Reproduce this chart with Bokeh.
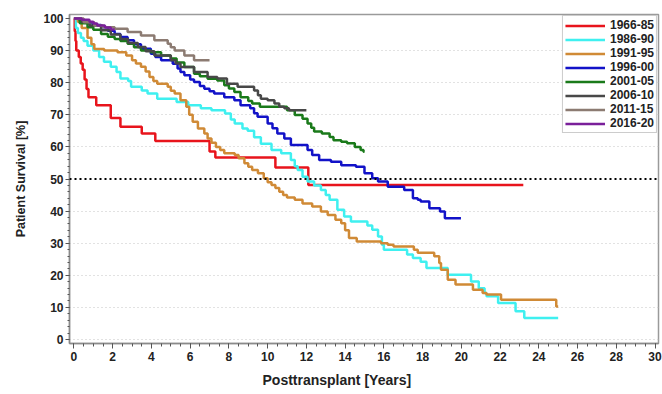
from bokeh.plotting import figure
from bokeh.models import Span, FixedTicker, Legend, Title
from bokeh.embed import file_html
from bokeh.resources import INLINE

# ---- data (years posttransplant, survival %) ----
red_t = [0, 0.04, 0.08, 0.12, 0.25, 0.35, 0.45, 0.55, 0.65, 0.75, 1.15, 1.9, 2.4, 3.5, 4.2, 7.0, 7.3, 10.4, 12.1, 23.2]
red_s = [100, 96, 93, 90, 88, 86, 84, 81, 78, 75.5, 73, 69, 66.3, 64.2, 61.8, 58.6, 56.7, 53.6, 48.1, 48.1]

cyan_t = [0, 0.1, 0.2, 0.36, 0.5, 0.7, 1.0, 1.3, 1.55, 1.9, 2.2, 2.4, 2.8, 2.95, 3.5, 3.8, 4.3, 5.3, 5.9, 6.55,
          7.1, 7.8, 8.1, 8.3, 8.7, 8.97, 9.3, 9.65, 10.2, 10.7, 11.2, 11.4, 11.55, 11.8, 12.06, 12.4, 12.75, 13.0,
          13.2, 13.6, 13.95, 14.3, 15.15, 15.4, 15.7, 15.9, 16.0, 17.2, 17.5, 17.9, 18.2, 19.3, 20.5, 20.9, 21.2,
          21.3, 21.9, 22.8, 23.25, 25.0]
cyan_s = [100, 97, 95.5, 94, 93, 91.5, 90, 88, 86.5, 85, 83.3, 81.3, 80.5, 78.7, 77.6, 76.6, 75, 74, 73, 72,
          71.4, 70.4, 68.5, 67.3, 65.7, 65, 63, 61, 59, 58, 55.9, 54, 52.8, 50.7, 49.2, 48, 46.6, 45,
          43.5, 40.4, 38.3, 36.8, 35.5, 34.2, 32.1, 29.5, 28, 26.5, 25.4, 24.2, 22.3, 20.2, 18.1, 16.0, 14.5,
          13.5, 11.4, 8.8, 6.7, 6.7]

orange_t = [0, 0.2, 0.4, 0.7, 0.9, 1.05, 1.56, 2.25, 2.7, 3.0, 3.2, 3.46, 3.7, 3.9, 4.1, 4.3, 4.84, 5.0, 5.2,
            5.5, 5.8, 5.95, 6.13, 6.4, 6.73, 6.9, 7.1, 7.33, 7.55, 7.76, 8.3, 8.5, 8.8, 9.0, 9.2, 9.5, 9.8,
            10.0, 10.2, 10.4, 10.6, 10.8, 11.0, 11.4, 11.8, 12.3, 12.75, 13.1, 13.5, 13.8, 14.0, 14.2, 14.6,
            15.85, 16.2, 16.5, 17.55, 17.75, 18.6, 18.86, 18.95, 19.3, 19.7, 20.6, 21.1, 21.3, 22.05, 24.9, 25.0]
orange_s = [100, 99, 97, 94, 92, 90.5, 90, 89.5, 88.5, 87, 86, 85, 83.5, 81.8, 80.5, 79.7, 78.7, 77.5, 76.6,
            74.5, 72.5, 70, 67.8, 65.7, 64.2, 62.6, 61.3, 60, 59, 58, 57.5, 56.5, 54.9, 53.8, 52.8, 51.8, 50.2,
            49, 48.1, 47.2, 46, 45, 44.2, 43.5, 42.4, 41.4, 39.9, 38.8, 37.3, 36.2, 34, 31.6, 30.5,
            30, 29.5, 29, 28, 27, 25.9, 23.8, 21.7, 18.6, 17.1, 15.5, 14.5, 14, 12.4, 10.3, 10.3]

blue_t = [0, 0.3, 0.7, 1.0, 1.4, 1.75, 2.1, 2.4, 2.77, 3.1, 3.46, 3.97, 4.2, 4.5, 5.1, 5.35, 5.5, 5.7, 6.0,
          6.2, 6.5, 6.73, 7.0, 7.24, 7.76, 8.28, 8.6, 9.1, 9.3, 9.48, 10.0, 10.25, 10.5, 10.86, 11.2, 12.06,
          12.3, 12.66, 13.27, 13.8, 14.56, 15.0, 15.4, 15.7, 16.2, 17.05, 17.5, 17.75, 17.9, 18.35, 18.9,
          19.15, 19.98]
blue_s = [100, 99.4, 98.5, 98, 97.3, 96.2, 95.2, 94.2, 93.2, 92, 90.6, 89, 88, 87, 85.9, 84.4, 83.3, 82.3, 81,
          80.2, 79, 78.1, 77.3, 76.6, 75.5, 74.5, 73, 72, 70.5, 69.4, 67.3, 65.8, 64.2, 62.6, 60.6, 59,
          57.5, 55.9, 55.4, 54.3, 53.8, 51.8, 50.2, 49.2, 47.6, 46.6, 44, 43.5, 43, 40.9, 39.9,
          37.8, 37.8]

green_t = [0, 0.3, 0.7, 1.0, 1.4, 1.75, 2.1, 2.4, 2.77, 3.1, 3.46, 3.97, 4.5, 5.0, 5.3, 5.7, 6.2, 6.5, 6.9,
           7.4, 7.76, 8.0, 8.28, 8.6, 9.0, 9.2, 9.6, 11.0, 11.4, 11.8, 12.06, 12.25, 12.4, 12.8, 13.2, 13.4,
           13.8, 14.1, 14.5, 14.8, 14.95, 15.0]
green_s = [100, 98.5, 97.3, 96.5, 95.2, 94.3, 93.6, 93, 92.1, 91, 90, 89.5, 88.5, 87.5, 86.3, 84.9, 82.8, 82,
           81.2, 80.7, 79.2, 78.2, 77.1, 75.5, 74.3, 73.5, 72.5, 71.4, 69.9, 68.8, 67.3, 66, 64.8, 64.2,
           63.1, 62.1, 61.6, 61.1, 60, 59, 58.5, 58.5]

dgray_t = [0, 0.4, 0.8, 1.4, 1.9, 2.4, 2.8, 3.3, 3.7, 4.15, 5.0, 5.25, 5.5, 6.2, 6.9, 7.4, 7.9, 8.45, 9.3, 9.5,
           9.65, 10.0, 10.35, 10.6, 10.86, 11.1, 12.0]
dgray_s = [100, 99, 97.8, 96.3, 95, 93.6, 92.4, 91.1, 89.8, 88.5, 87, 86, 84.9, 83.3, 81.8, 81.3, 79.7, 78.7,
           77.6, 76.1, 75, 74.5, 73.5, 72.5, 72, 71.4, 71.4]

brown_t = [0, 0.5, 1.05, 1.5, 2.1, 2.77, 3.46, 4.15, 4.84, 5.0, 5.2, 5.7, 6.2, 7.0]
brown_s = [100, 98.8, 97.8, 97.3, 96.8, 95.8, 94.7, 93.2, 92.1, 91, 90, 88.5, 87, 87]

purple_t = [0, 0.4, 0.8, 1.0, 1.2, 1.6, 1.9, 2.1]
purple_s = [100, 99.6, 99, 98.4, 97.8, 97.2, 96.6, 96.6]

series_names = ["1966-85", "1986-90", "1991-95", "1996-00", "2001-05", "2006-10", "2011-15", "2016-20"]
series_colors = ["#e8141c", "#3ff0f0", "#d08a36", "#1212c8", "#1a7a1a", "#484848", "#8c7b72", "#7a1f9a"]
series_t = [red_t, cyan_t, orange_t, blue_t, green_t, dgray_t, brown_t, purple_t]
series_s = [red_s, cyan_s, orange_s, blue_s, green_s, dgray_s, brown_s, purple_s]

x_ticks = list(range(0, 31, 2))
y_ticks = list(range(0, 101, 10))
x_title = "Posttransplant [Years]"
y_title = "Patient Survival [%]"

FONT = "Liberation Sans"

p = figure(width=662, height=394, x_range=(-0.23, 30.18), y_range=(-1.24, 101.24),
           output_backend="svg", toolbar_location=None,
           min_border_left=69, min_border_right=4, min_border_top=14, min_border_bottom=50)
p.background_fill_color = "white"
p.border_fill_color = "white"
p.outline_line_color = "#9a9a9a"
p.outline_line_width = 1.5

p.xgrid.visible = False
p.ygrid.ticker = FixedTicker(ticks=[t for t in y_ticks if t not in (50, 100)])
p.ygrid.grid_line_color = "#c4c4c4"
p.ygrid.grid_line_dash = "1 3"
p.ygrid.grid_line_width = 1

p.add_layout(Span(location=50, dimension="width", line_color="black", line_width=2, line_dash="2 3"))

p.xaxis.ticker = FixedTicker(ticks=x_ticks, minor_ticks=[i * 0.5 for i in range(0, 61)])
p.yaxis.ticker = FixedTicker(ticks=y_ticks, minor_ticks=list(range(0, 101, 2)))

for ax in (p.xaxis[0], p.yaxis[0]):
    ax.axis_line_color = "#8a8a8a"
    ax.axis_line_width = 1.5
    ax.major_tick_line_color = "#555555"
    ax.minor_tick_line_color = "#555555"
    ax.major_tick_in = 0
    ax.minor_tick_in = 0
    ax.major_label_text_font = FONT
    ax.major_label_text_font_style = "bold"
    ax.major_label_text_font_size = "12px"
    ax.major_label_text_color = "#222222"
    ax.axis_label_text_font = FONT
    ax.axis_label_text_font_style = "bold"
    ax.axis_label_text_color = "#222222"

p.xaxis.major_tick_out = 5
p.xaxis.minor_tick_out = 3
p.yaxis.major_tick_out = 4
p.yaxis.minor_tick_out = 2
p.xaxis.major_label_standoff = 3
p.yaxis.major_label_standoff = 2
p.yaxis.axis_label = y_title
p.yaxis.axis_label_text_font_size = "12.5px"
p.yaxis.axis_label_standoff = 12

# x-axis title: placed left of the frame centre, as in the original
xt = Title(text=x_title, align="left", offset=193, standoff=13,
           text_font=FONT, text_font_style="bold", text_font_size="14px",
           text_color="#222222")
p.add_layout(xt, "below")

items = []
for name, col, t, s in zip(series_names, series_colors, series_t, series_s):
    r = p.step(x=t, y=s, mode="after", line_color=col, line_width=2.5)
    items.append((name, [r]))

legend = Legend(items=items, location="top_right")
legend.margin = 1
legend.padding = 2
legend.spacing = 0
legend.glyph_width = 40
legend.glyph_height = 11
legend.label_height = 11
legend.label_standoff = 5
legend.label_text_font = FONT
legend.label_text_font_style = "bold"
legend.label_text_font_size = "12px"
legend.label_text_color = "#222222"
legend.border_line_color = "#9a9a9a"
legend.border_line_width = 1.5
legend.background_fill_color = "white"
legend.background_fill_alpha = 1
p.add_layout(legend)

open("out.html", "w").write(file_html(p, INLINE))
